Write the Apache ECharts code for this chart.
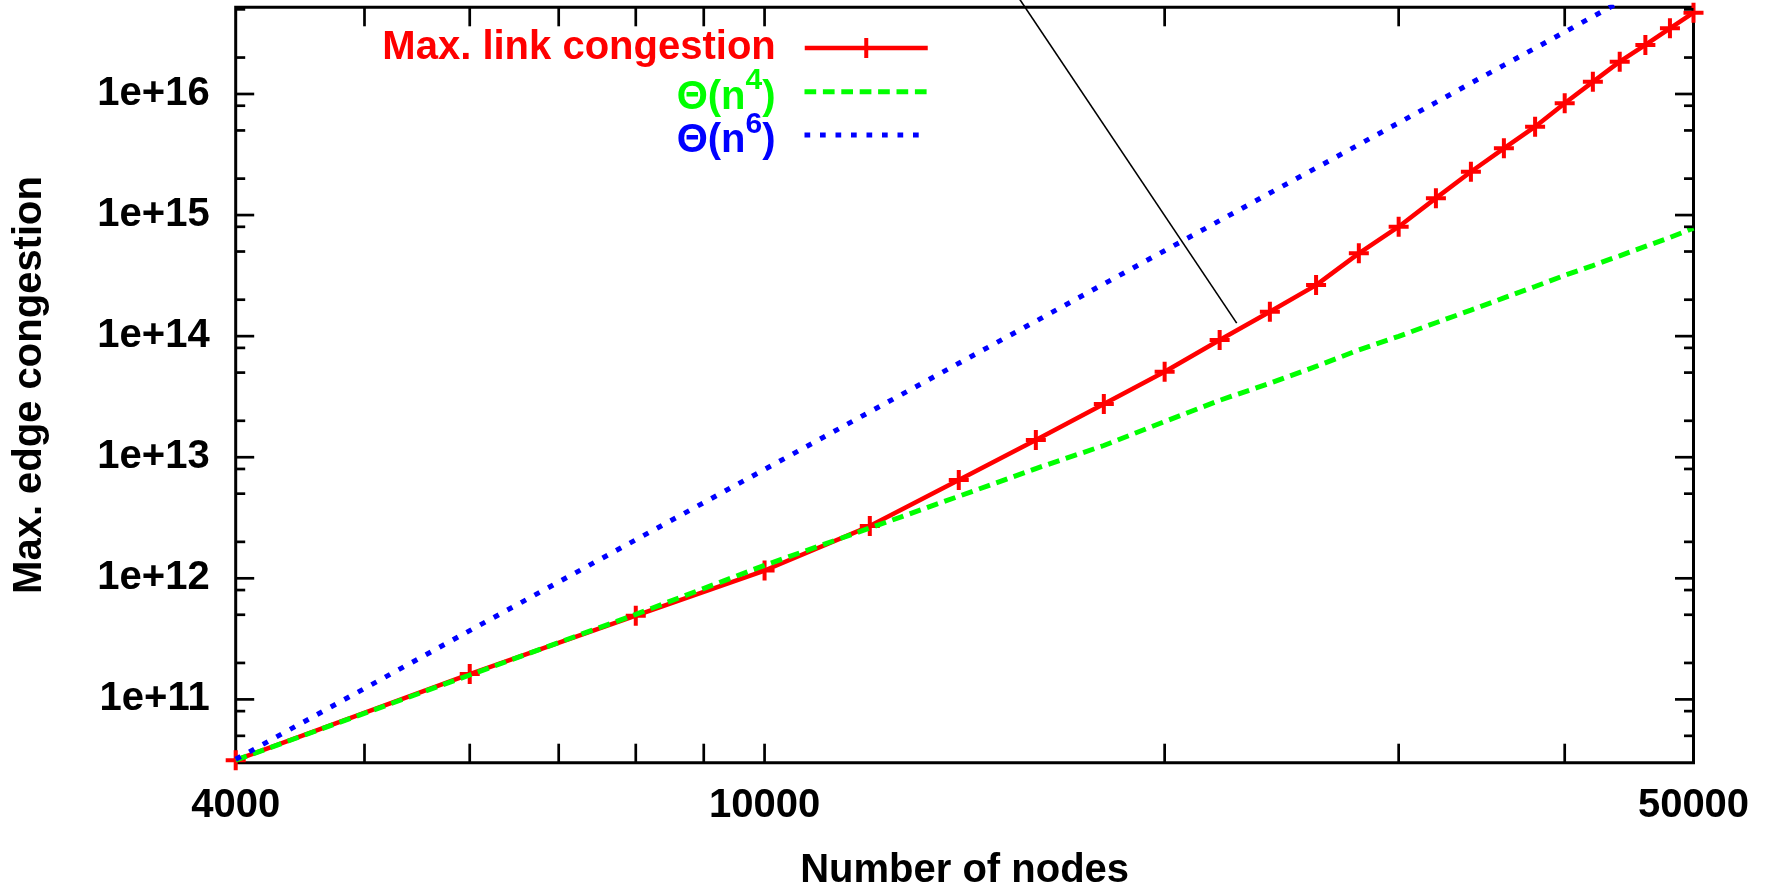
<!DOCTYPE html>
<html><head><meta charset="utf-8">
<script src="https://cdn.jsdelivr.net/npm/echarts@6/dist/echarts.min.js"></script>
<style>html,body{margin:0;padding:0;background:#fff}#c{width:1772px;height:889px}</style>
</head><body><div id="c"></div>
<script>
// ---- data ----
const nodes = [4000, 6000, 8000, 10000, 12000, 14000, 16000, 18000, 20000, 22000, 24000, 26000,
               28000, 30000, 32000, 34000, 36000, 38000, 40000, 42000, 44000, 46000, 48000, 50000];
const maxLinkCongestion = [3.15e10, 1.62e11, 4.91e11, 1.16e12, 2.70e12, 6.49e12, 1.39e13, 2.75e13,
               5.08e13, 9.29e13, 1.59e14, 2.64e14, 4.83e14, 8.02e14, 1.38e15, 2.28e15,
               3.56e15, 5.37e15, 8.38e15, 1.26e16, 1.85e16, 2.54e16, 3.49e16, 4.69e16];
const thetaN4 = [3.15e10, 1.59e11, 5.04e11, 1.28e12, 2.60e12, 4.76e12, 8.06e12, 1.25e13,
               1.97e13, 2.95e13, 4.08e13, 5.62e13, 7.70e13, 9.97e13, 1.29e14, 1.64e14,
               2.07e14, 2.57e14, 3.18e14, 3.83e14, 4.61e14, 5.51e14, 6.53e14, 7.80e14];
const thetaN6Nodes = [4000, 6000, 8000, 10000, 12000, 14000, 16000, 18000, 20000, 22000, 24000,
               26000, 28000, 30000, 32000, 34000, 36000, 38000, 40000, 42000, 44000];
const thetaN6 = [3.2e10, 3.70e11, 2.08e12, 7.93e12, 2.37e13, 5.97e13, 1.33e14, 2.70e14,
               5.08e14, 9.00e14, 1.52e15, 2.45e15, 3.82e15, 5.78e15, 8.52e15, 1.23e16,
               1.73e16, 2.39e16, 3.25e16, 4.36e16, 5.76e16];
const pointerLine = [[15480, 6.58e16], [22660, 1.28e14]];
const seriesNames = ['Max. link congestion', 'Θ(n^4)', 'Θ(n^6)'];
// ---- axes / ticks ----
const X_MIN = 4000, X_MAX = 50000;
const Y_MIN = 3.0e10, Y_MAX = 5.2e16;
const xTickValues = [5000, 6000, 7000, 8000, 9000, 10000, 20000, 30000, 40000];
const yMajorTickValues = [1e11, 1e12, 1e13, 1e14, 1e15, 1e16];
const yMinorTickValues = [5e10, 8e10, 2e11, 5e11, 8e11, 2e12, 5e12, 8e12, 2e13, 5e13, 8e13,
                          2e14, 5e14, 8e14, 2e15, 5e15, 8e15, 2e16, 5e16];

const FONT = "'Liberation Sans', Arial, Helvetica, sans-serif";
const zip = (xs, ys) => xs.map((x, i) => [x, ys[i]]);

function tickSeries(data, vertical, len) {
  return {
    type: 'custom', silent: true, z: 6, data: data,
    encode: { x: 0, y: 1 },
    renderItem: function (params, api) {
      const p = api.coord([api.value(0), api.value(1)]);
      const cs = params.coordSys;
      const st = { stroke: '#000', lineWidth: 2.7 };
      if (vertical) {
        const b = cs.y + cs.height, t = cs.y;
        return { type: 'group', children: [
          { type: 'line', shape: { x1: p[0], y1: b, x2: p[0], y2: b - len }, style: st },
          { type: 'line', shape: { x1: p[0], y1: t, x2: p[0], y2: t + len }, style: st }
        ]};
      } else {
        const l = cs.x, r = cs.x + cs.width;
        return { type: 'group', children: [
          { type: 'line', shape: { x1: l, y1: p[1], x2: l + len, y2: p[1] }, style: st },
          { type: 'line', shape: { x1: r, y1: p[1], x2: r - len, y2: p[1] }, style: st }
        ]};
      }
    }
  };
}

function makeLegend(name, color, top, formatter, rich, lineStyle, itemStyle) {
  return {
    data: [{ name: name }], orient: 'vertical', right: 842, top: top, padding: 0,
    align: 'right', itemWidth: 123, itemHeight: 25, selectedMode: false,
    formatter: formatter, lineStyle: lineStyle, itemStyle: itemStyle,
    textStyle: { color: color, fontSize: 40, fontWeight: 'bold', fontFamily: FONT,
                 lineHeight: 40, padding: [0, 24, 0, 0], rich: rich }
  };
}
function supRich(color) {
  return {
    z: { fontSize: 1, lineHeight: 51.5, color: 'transparent' },
    t: { color: color, fontSize: 40, fontWeight: 'bold', fontFamily: FONT, lineHeight: 40, verticalAlign: 'bottom' },
    s: { color: color, fontSize: 30, fontWeight: 'bold', fontFamily: FONT, lineHeight: 30, verticalAlign: 'top' }
  };
}

const chart = echarts.init(document.getElementById('c'), null, { renderer: 'canvas' });
chart.setOption({
  animation: false,
  backgroundColor: '#fff',
  grid: { left: 235.7, right: 78.5, top: 7.3, bottom: 126.3, show: true,
          borderColor: '#000', borderWidth: 3, backgroundColor: 'transparent', outerBoundsMode: 'none' },
  legend: [
    makeLegend(seriesNames[0], '#ff0000', 28, n => n, undefined,
      { color: '#ff0000', width: 4.5, type: 'solid' },
      { color: '#ff0000', borderColor: '#ff0000', borderWidth: 4 }),
    makeLegend(seriesNames[1], '#00ff00', 66, () => '{z| }{t|Θ(n}{s|4}{t|)}', supRich('#00ff00'),
      { color: '#00ff00', width: 5, type: [11.7, 6.7] }, { opacity: 0 }),
    makeLegend(seriesNames[2], '#0000ff', 109.3, () => '{z| }{t|Θ(n}{s|6}{t|)}', supRich('#0000ff'),
      { color: '#0000ff', width: 5, type: [5.7, 9.8] }, { opacity: 0 })
  ],
  xAxis: {
    type: 'log', logBase: 10, min: X_MIN, max: X_MAX,
    name: 'Number of nodes', nameLocation: 'middle', nameGap: 88,
    nameTextStyle: { color: '#000', fontSize: 40, fontWeight: 'bold', fontFamily: FONT },
    axisLine: { show: false }, axisTick: { show: false }, splitLine: { show: false }, minorTick: { show: false },
    axisLabel: { color: '#000', fontSize: 40, fontWeight: 'bold', fontFamily: FONT, margin: 23,
                 showMinLabel: true, showMaxLabel: true,
                 formatter: v => String(Math.round(v)) }
  },
  yAxis: {
    type: 'log', logBase: 10, min: Y_MIN, max: Y_MAX,
    name: 'Max. edge congestion', nameLocation: 'middle', nameGap: 186, nameRotate: 90,
    nameTextStyle: { color: '#000', fontSize: 40, fontWeight: 'bold', fontFamily: FONT },
    axisLine: { show: false }, axisTick: { show: false }, splitLine: { show: false }, minorTick: { show: false },
    axisLabel: { color: '#000', fontSize: 40, fontWeight: 'bold', fontFamily: FONT, margin: 26,
                 formatter: v => { const e = Math.log10(v); return Math.abs(e - Math.round(e)) < 1e-6 ? '1e+' + Math.round(e) : ''; } }
  },
  series: [
    { name: seriesNames[0], type: 'line', data: zip(nodes, maxLinkCongestion), z: 3,
      symbol: 'path://M10,0 L10,20 M0,10 L20,10', symbolSize: 20, showSymbol: true,
      lineStyle: { color: '#ff0000', width: 4.5 },
      itemStyle: { color: '#ff0000', borderColor: '#ff0000', borderWidth: 4 },
      emphasis: { disabled: true } },
    { name: seriesNames[1], type: 'line', data: zip(nodes, thetaN4), z: 4,
      symbol: 'none', showSymbol: false,
      lineStyle: { color: '#00ff00', width: 5, type: [11.7, 6.7] },
      itemStyle: { color: '#00ff00' }, emphasis: { disabled: true } },
    { name: seriesNames[2], type: 'line', data: zip(thetaN6Nodes, thetaN6), z: 5,
      symbol: 'none', showSymbol: false,
      lineStyle: { color: '#0000ff', width: 5, type: [5.7, 9.8] },
      itemStyle: { color: '#0000ff' }, emphasis: { disabled: true } },
    { name: 'pointer', type: 'line', data: pointerLine, clip: false, z: 6,
      symbol: 'none', showSymbol: false, silent: true,
      lineStyle: { color: '#000', width: 1.6 }, emphasis: { disabled: true } },
    tickSeries(xTickValues.map(v => [v, Y_MIN]), true, 19),
    tickSeries(yMajorTickValues.map(v => [X_MIN, v]), false, 18.5),
    tickSeries(yMinorTickValues.map(v => [X_MIN, v]), false, 9.5)
  ]
});
</script></body></html>
